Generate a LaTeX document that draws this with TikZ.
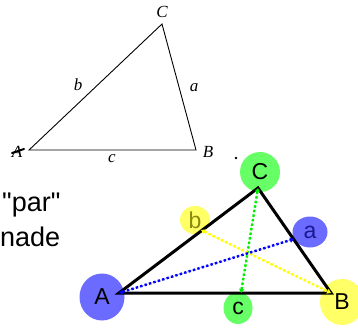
\documentclass[tikz,border=0pt]{standalone}
\usepackage{fontspec}
\setmainfont{Liberation Sans}[Ligatures=TeXOff]
\newfontfamily\serifit{Liberation Serif}[ItalicFont=* Italic]
\usetikzlibrary{arrows.meta,shapes.geometric}
\definecolor{blobgreen}{HTML}{66FF66}
\definecolor{blobblue}{HTML}{6B6BFF}
\definecolor{blobyellow}{HTML}{FFFF66}
\definecolor{dotgreen}{HTML}{00EE00}
\definecolor{dotyellow}{HTML}{FFFF00}
\definecolor{dotblue}{HTML}{0000FF}
\definecolor{txtolive}{HTML}{8A8A10}
\definecolor{txtnavy}{HTML}{1A1A90}
\tikzset{
  thinedge/.style={line width=0.9pt, line join=miter},
  thickedge/.style={line width=3pt, line join=miter},
  toplabel/.style={inner sep=0pt, font=\serifit\itshape\fontsize{17}{17}\selectfont},
  blob/.style={ellipse, inner sep=0pt, font=\fontsize{23}{23}\selectfont},
  dotline/.style={line width=2.4pt, dash pattern=on 2.4pt off 2.2pt,
    {Triangle[length=4pt,width=5pt]}-{Triangle[length=4pt,width=5pt]}},
  sidetext/.style={anchor=base west, inner sep=0pt, font=\fontsize{27}{27}\selectfont}
}
\begin{document}
\begin{tikzpicture}[x=1pt,y=-1pt]
\useasboundingbox (0,0) rectangle (358,329);
% top triangle
\coordinate (tA) at (29,150);
\coordinate (tB) at (196,150);
\coordinate (tC) at (162,24);
\draw[thinedge] (tA) -- (tB) -- (tC) -- cycle;
\node[toplabel] (lC) at (162,12) {C};
\node[toplabel] (lB) at (208,152) {B};
\node[toplabel] (lA) at (17,152) {A};
\node[toplabel] (lb) at (78,85) {b};
\node[toplabel] (la) at (194,88) {a};
\node[toplabel] (lc) at (112,159) {c};
\draw[line width=2pt, line cap=round] (12,153) -- (24,149);
\fill (236,158) circle (1.3);
% side text
\node[sidetext] (t1) at (2,211) {"par"};
\node[sidetext] (t2) at (0,246) {nade};
% blobs
\node[blob, fill=blobgreen, minimum width=40pt, minimum height=40pt] (bC) at (260,172) {};
\node[blob, fill=blobblue, minimum width=45pt, minimum height=47pt] (bA) at (102,297) {};
\node[blob, fill=blobyellow, minimum width=30pt, minimum height=28pt] (bb) at (195,220) {};
\node[blob, fill=blobblue, minimum width=35pt, minimum height=31pt] (ba) at (310,232) {};
\node[blob, fill=blobgreen, minimum width=29pt, minimum height=32pt] (bc) at (238,308) {};
\node[blob, fill=blobyellow, minimum width=44pt, minimum height=46pt] (bB) at (342,302) {};
% bottom triangle
\coordinate (A) at (119,293);
\coordinate (B) at (331,293);
\coordinate (C) at (258,188);
\coordinate (fa) at (294,239);
\coordinate (fb) at (201,230);
\coordinate (fc) at (241,293);
\draw[thickedge] (A) -- (B) -- (C) -- cycle;
\draw[dotline, dotgreen, fill=dotgreen] (C) -- (fc);
\draw[dotline, dotyellow, fill=dotyellow] (fb) -- (B);
\draw[dotline, dotblue, fill=dotblue] (A) -- (fa);
% blob texts
\node[blob] (xC) at (bC) {C};
\node[blob] (xA) at (bA) {A};
\node[blob, text=txtolive] (xb) at (bb) {b};
\node[blob, text=txtnavy] (xa) at (ba) {a};
\node[blob] (xc) at (bc) {c};
\node[blob] (xB) at (bB) {B};
\end{tikzpicture}
\end{document}
